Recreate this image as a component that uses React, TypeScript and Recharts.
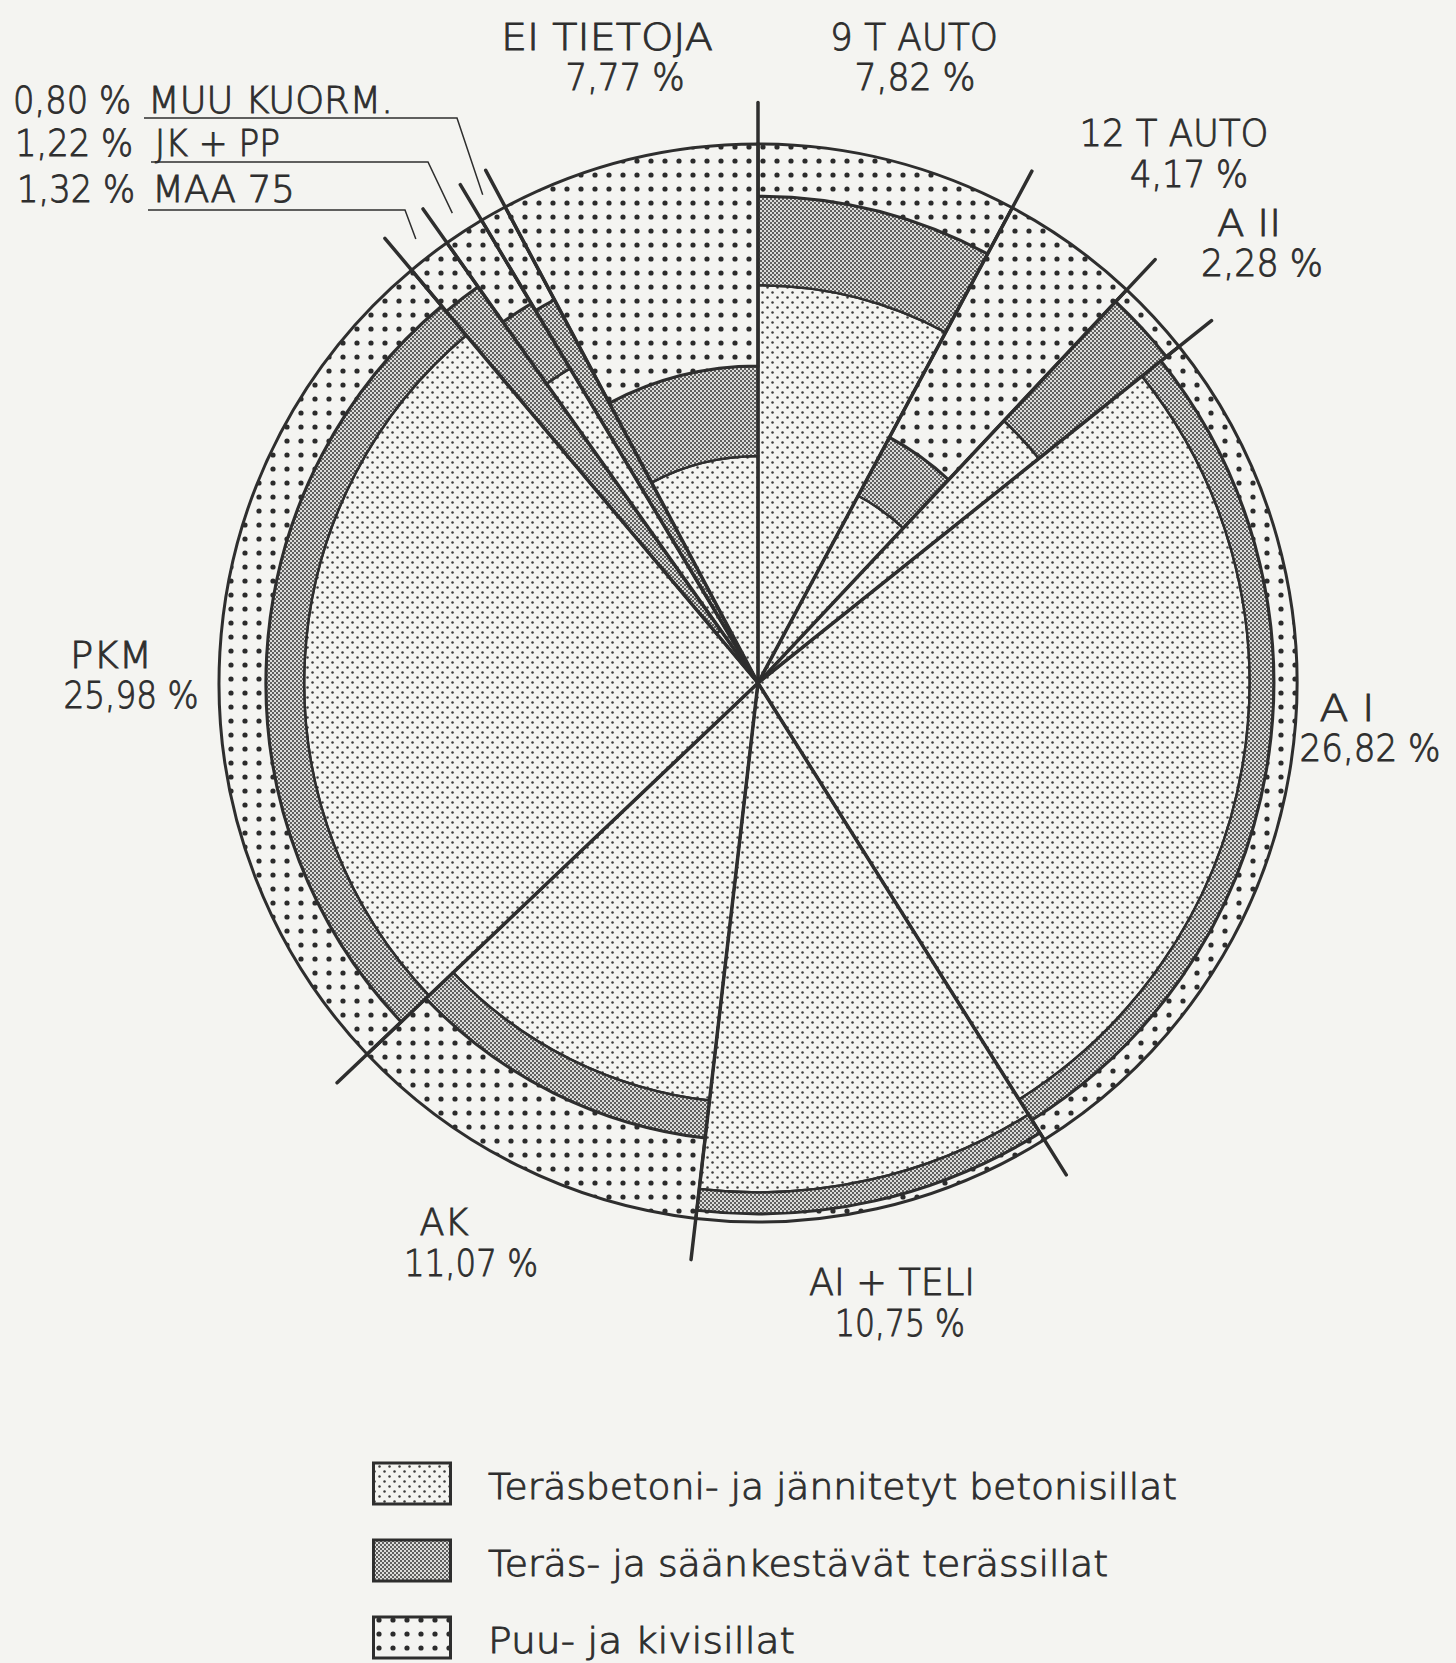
import React from "react";
import { PieChart, Pie, Sector, Legend } from "recharts";

// sectors, clockwise from 12 o'clock
const categories = [
  "9 T AUTO",
  "12 T AUTO",
  "A II",
  "A I",
  "AI + TELI",
  "AK",
  "PKM",
  "MAA 75",
  "JK + PP",
  "MUU KUORM.",
  "EI TIETOJA",
];
const shares = [7.82, 4.17, 2.28, 26.82, 10.75, 11.07, 25.98, 1.32, 1.22, 0.8, 7.77];

// radial depth of each material band inside a sector (% of radius)
const concreteDepth = [73.8, 39.4, 66.7, 91.2, 94.5, 78, 84.2, 12, 68, 12, 42.1];
const steelDepth = [16.5, 12.3, 30.3, 4.5, 4.0, 7, 7.1, 78, 14, 68.5, 16.7];
const woodDepth = [9.7, 48.3, 3, 4.3, 1.5, 15, 8.7, 10, 18, 19.5, 41.2];

const materials = [
  "Teräsbetoni- ja jännitetyt betonisillat",
  "Teräs- ja säänkestävät terässillat",
  "Puu- ja kivisillat",
];

const data = categories.map((name, i) => ({
  name,
  share: shares[i],
  concrete: concreteDepth[i],
  steel: steelDepth[i],
  wood: woodDepth[i],
}));

const W = 1456;
const H = 1663;
const CX = 758;
const CY = 683;
const R = 539;
const INK = "#2e2e2e";
const PAPER = "#f4f4f1";
const FONT = "'DejaVu Sans', sans-serif";
const FILLS = ["url(#fine)", "url(#steel)", "url(#coarse)"];
const RAD = Math.PI / 180;

const polar = (cx: number, cy: number, r: number, a: number) => ({
  x: cx + r * Math.cos(-a * RAD),
  y: cy + r * Math.sin(-a * RAD),
});

const fmt = (v: number) => v.toFixed(2).replace(".", ",") + " %";

// label layout: [nameX, nameY, nameWidth, pctX, pctY, pctWidth]
const MAIN_LABELS: Record<number, number[]> = {
  0: [914, 50, 168, 915, 90, 121],
  1: [1174, 146, 189, 1189, 187, 118],
  2: [1249, 236, 64, 1262, 276, 122],
  3: [1347, 721, 55, 1370, 761, 141],
  4: [892, 1295, 166, 900, 1336, 130],
  5: [444, 1235, 49, 471, 1276, 134],
  6: [111, 668, 82, 131, 708, 135],
  10: [607, 50, 212, 625, 90, 119],
};

// small sectors labelled on the left: [pctX, nameX, baseline, underlineY, underlineEnd, nameWidth]
const SIDE_LABELS: Record<number, number[]> = {
  7: [17, 152, 202, 210, 405, 143],
  8: [15, 155, 156, 162, 428, 125],
  9: [13, 148, 113, 118, 457, 245],
};

const LEGEND_WIDTHS = [689, 620, 307];

function BandSector(props: any) {
  const { cx, cy, outerRadius, startAngle, endAngle } = props;
  const d = props.payload ?? props;
  const r1 = (outerRadius * d.concrete) / 100;
  const r2 = (outerRadius * (d.concrete + d.steel)) / 100;
  const rings = [
    [0, r1],
    [r1, r2],
    [r2, outerRadius],
  ];
  return (
    <g>
      {rings.map(([a, b], k) =>
        b - a > 0.5 ? (
          <Sector
            key={k}
            cx={cx}
            cy={cy}
            innerRadius={a}
            outerRadius={b}
            startAngle={startAngle}
            endAngle={endAngle}
            fill={FILLS[k]}
            stroke={INK}
            strokeWidth={k === 2 ? 3 : 2.5}
          />
        ) : null
      )}
    </g>
  );
}

function Divider(props: any) {
  const { cx, cy, outerRadius, startAngle } = props;
  const end = polar(cx, cy, outerRadius * 1.077, startAngle);
  return (
    <line x1={cx} y1={cy} x2={end.x} y2={end.y} stroke={INK} strokeWidth={3.5} strokeLinecap="round" />
  );
}

const textStyle = {
  fontFamily: FONT,
  fontSize: 38,
  fontWeight: 300,
  fill: INK,
  stroke: INK,
  strokeWidth: 0.9,
};

function renderLabel(props: any) {
  const { index, cx, cy, outerRadius, midAngle } = props;
  const d = data[index];
  const main = MAIN_LABELS[index];
  if (main) {
    return (
      <g key={`lab-${index}`}>
        <text x={main[0]} y={main[1]} textAnchor="middle" textLength={main[2]} lengthAdjust="spacingAndGlyphs" {...textStyle}>
          {d.name}
        </text>
        <text x={main[3]} y={main[4]} textAnchor="middle" textLength={main[5]} lengthAdjust="spacingAndGlyphs" {...textStyle}>
          {fmt(d.share)}
        </text>
      </g>
    );
  }
  const side = SIDE_LABELS[index];
  if (!side) return null;
  const [pctX, nameX, base, lineY, lineEnd, nameW] = side;
  const tip = polar(cx, cy, outerRadius * 1.04, midAngle);
  return (
    <g key={`lab-${index}`}>
      <text x={pctX} y={base} textLength={118} lengthAdjust="spacingAndGlyphs" {...textStyle}>
        {fmt(d.share)}
      </text>
      <text x={nameX} y={base} textLength={nameW} lengthAdjust="spacingAndGlyphs" {...textStyle}>
        {d.name}
      </text>
      <polyline
        points={`${nameX - 4},${lineY} ${lineEnd},${lineY} ${tip.x},${tip.y}`}
        fill="none"
        stroke={INK}
        strokeWidth={1.5}
      />
    </g>
  );
}

function MaterialLegend() {
  return (
    <div>
      {materials.map((m, k) => (
        <svg key={m} width={900} height={77} style={{ display: "block" }}>
          <rect x={1.5} y={4} width={77} height={41} fill={FILLS[k]} stroke={INK} strokeWidth={3} />
          <text
            x={116}
            y={40}
            fontFamily={FONT}
            fontSize={36}
            fontWeight={300}
            fill={INK}
            stroke={INK}
            strokeWidth={0.9}
            textLength={LEGEND_WIDTHS[k]}
            lengthAdjust="spacingAndGlyphs"
          >
            {m}
          </text>
        </svg>
      ))}
    </div>
  );
}

export default function App() {
  return (
    <div style={{ position: "fixed", left: 0, top: 0, width: W, height: H, background: PAPER, overflow: "hidden" }}>
      <PieChart width={W} height={H} margin={{ top: 0, right: 0, bottom: 0, left: 0 }}>
        <defs>
          <pattern id="fine" width="10" height="10" patternUnits="userSpaceOnUse">
            <rect width="10" height="10" fill={PAPER} />
            <circle cx="2.5" cy="2.5" r="1.25" fill="#3c3c3c" />
            <circle cx="7.5" cy="7.5" r="1.25" fill="#3c3c3c" />
          </pattern>
          <pattern id="steel" width="4" height="4" patternUnits="userSpaceOnUse">
            <rect width="4" height="4" fill="#dcdcda" />
            <circle cx="1" cy="1" r="1" fill="#363636" />
            <circle cx="3" cy="3" r="1" fill="#363636" />
          </pattern>
          <pattern id="coarse" width="14" height="14" patternUnits="userSpaceOnUse">
            <rect width="14" height="14" fill={PAPER} />
            <circle cx="7" cy="7" r="2.6" fill="#2c2c2c" />
          </pattern>
        </defs>
        <Pie
          data={data}
          dataKey="share"
          nameKey="name"
          cx={CX}
          cy={CY}
          innerRadius={0}
          outerRadius={R}
          startAngle={90}
          endAngle={-270}
          isAnimationActive={false}
          shape={BandSector}
          activeShape={BandSector}
          inactiveShape={BandSector}
          label={false}
          labelLine={false}
        />
        <Pie
          data={data}
          dataKey="share"
          nameKey="name"
          cx={CX}
          cy={CY}
          innerRadius={0}
          outerRadius={R}
          startAngle={90}
          endAngle={-270}
          isAnimationActive={false}
          fill="none"
          stroke="none"
          shape={Divider}
          activeShape={Divider}
          inactiveShape={Divider}
          label={renderLabel}
          labelLine={false}
          legendType="none"
        />
        <Legend
          content={MaterialLegend}
          wrapperStyle={{ position: "absolute", left: 372, top: 1459, width: 900 }}
        />
      </PieChart>
    </div>
  );
}
